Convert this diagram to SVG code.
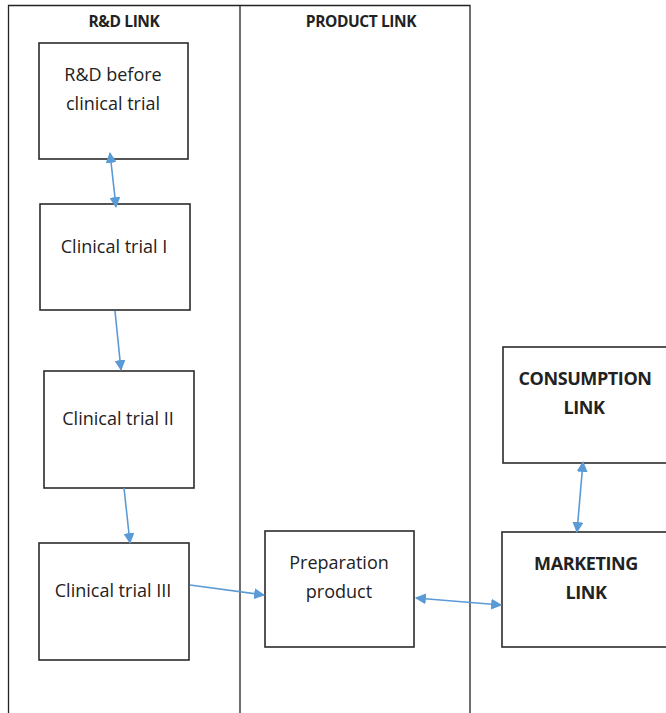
<svg xmlns="http://www.w3.org/2000/svg" width="666" height="713" viewBox="0 0 666 713">
<style>
.lane{fill:none;stroke:#222;stroke-width:1.3}
.box{fill:#fff;stroke:#2b2b2b;stroke-width:1.6}
.t{font-family:"Open Sans","Liberation Sans",sans-serif;font-size:18px;fill:#222;text-anchor:middle}
.h{font-family:"Open Sans","Liberation Sans",sans-serif;font-size:15.5px;font-weight:bold;fill:#222;text-anchor:middle;letter-spacing:-0.4px}
.hb{font-family:"Open Sans","Liberation Sans",sans-serif;font-size:18px;font-weight:bold;fill:#222;text-anchor:middle;letter-spacing:-0.4px}
.c{stroke:#5b9bd5;stroke-width:1.6;fill:none}
</style>
<defs>
<marker id="ah" viewBox="0 0 10 10" refX="9" refY="5" markerWidth="11" markerHeight="11" orient="auto-start-reverse" markerUnits="userSpaceOnUse"><path d="M0,0 L10,5 L0,10 z" fill="#5b9bd5"/></marker>
</defs>
<g id="lanes">
<path class="lane" d="M8.5,713 V5.5 H470 V713 M240,5.5 V713"/>
<text class="h" x="124" y="27">R&amp;D LINK</text>
<text class="h" x="361" y="27">PRODUCT LINK</text>
</g>
<g id="rd">
<rect class="box" x="39" y="43" width="149" height="116"/>
<text class="t" x="113" y="81">R&amp;D before</text>
<text class="t" x="113" y="110">clinical trial</text>
</g>
<g id="ct1">
<rect class="box" x="40" y="204" width="150" height="106"/>
<text class="t" x="114" y="253">Clinical trial I</text>
</g>
<g id="ct2">
<rect class="box" x="44" y="371" width="150" height="117"/>
<text class="t" x="118" y="425">Clinical trial II</text>
</g>
<g id="ct3">
<rect class="box" x="39" y="543" width="150" height="117"/>
<text class="t" x="113" y="597">Clinical trial III</text>
</g>
<g id="prep">
<rect class="box" x="265" y="531" width="149" height="116"/>
<text class="t" x="339" y="569">Preparation</text>
<text class="t" x="339" y="598">product</text>
</g>
<g id="consumption">
<rect class="box" x="503" y="347" width="170" height="116"/>
<text class="hb" x="585" y="385">CONSUMPTION</text>
<text class="hb" x="584" y="414">LINK</text>
</g>
<g id="marketing">
<rect class="box" x="502" y="532" width="170" height="115"/>
<text class="hb" x="586" y="570">MARKETING</text>
<text class="hb" x="586" y="599">LINK</text>
</g>
<g id="connectors">
<line class="c" x1="110" y1="153" x2="116" y2="207" marker-start="url(#ah)" marker-end="url(#ah)"/>
<line class="c" x1="115" y1="311" x2="121" y2="370" marker-end="url(#ah)"/>
<line class="c" x1="124" y1="488" x2="130" y2="543" marker-end="url(#ah)"/>
<line class="c" x1="190" y1="585" x2="264" y2="595" marker-end="url(#ah)"/>
<line class="c" x1="416" y1="598" x2="501" y2="605" marker-start="url(#ah)" marker-end="url(#ah)"/>
<line class="c" x1="583" y1="462" x2="577" y2="532" marker-start="url(#ah)" marker-end="url(#ah)"/>
</g>
</svg>
